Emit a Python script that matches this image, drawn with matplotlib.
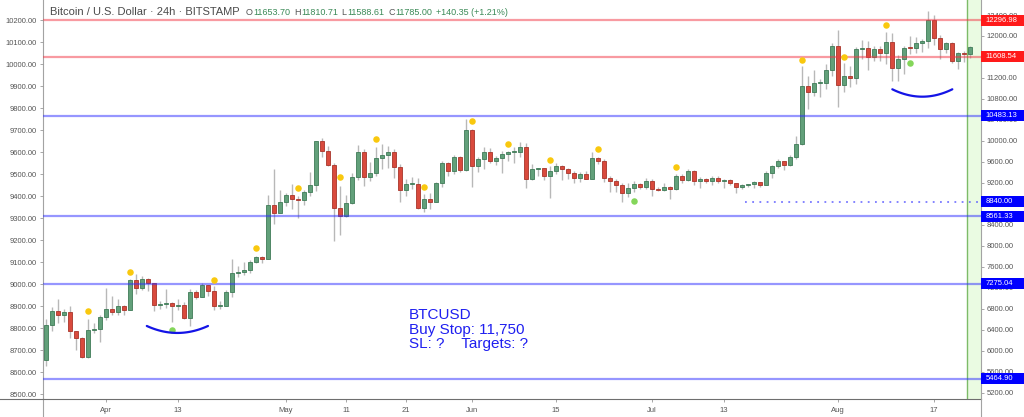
import matplotlib
matplotlib.use("Agg")
import matplotlib.pyplot as plt
import numpy as np
from matplotlib.lines import Line2D
from matplotlib.patches import Rectangle
from matplotlib.transforms import blended_transform_factory

plt.rcParams['font.family'] = ['Liberation Sans', 'DejaVu Sans']

# BTCUSD daily candles, 23 Mar - 24 Aug 2020
opens = [
    5830, 6490, 6764, 6690, 6740, 6370, 6240, 5880, 6400,
    6420, 6650, 6800, 6740, 6860, 6780, 7340, 7200, 7370, 7290, 6870, 6890, 6910, 6860, 6870,
    6620, 7110, 7030, 7260, 7130, 6850, 6860, 7120, 7490, 7510, 7540, 7700, 7780, 7750, 8780,
    8620, 8830, 8970, 8890, 8880, 9020, 9150, 9990, 9810, 9540, 8730, 8560, 8810, 9310, 9790,
    9310, 9380, 9670, 9730, 9780, 9510, 9060, 9170, 9180, 8720, 8900, 8840, 9200, 9570, 9430, 9700,
    9450, 10200, 9520, 9650, 9790, 9620, 9670, 9750, 9780, 9780, 9890, 9270, 9460, 9480, 9330,
    9430, 9520, 9460, 9380, 9300, 9360, 9280, 9680, 9620, 9290, 9240, 9160, 9000, 9110, 9180,
    9130, 9230, 9090, 9060, 9130, 9080, 9340, 9250, 9430, 9230, 9280, 9230, 9300, 9240, 9250,
    9190, 9130, 9150, 9170, 9210, 9160, 9390, 9530, 9610, 9540, 9700, 9940, 11040, 10930, 11110, 11110,
    11350, 11810, 11070, 11230, 11190, 11750, 11770, 11600, 11760, 11680, 11890, 11390, 11570, 11780,
    11770, 11860, 11910, 12300, 11960, 11750, 11870, 11520, 11680, 11653.70,
]
highs = [
    6600, 6840, 6980, 6800, 6860, 6380, 6260, 6600, 6520,
    6680, 7190, 7040, 6990, 6880, 7360, 7470, 7420, 7380, 7300, 6950, 7170, 6920, 6980, 6930,
    7180, 7150, 7300, 7260, 7230, 6950, 7150, 7740, 7610, 7700, 7720, 7800, 7800, 8970, 9460,
    9070, 9000, 9180, 8950, 9070, 9400, 10000, 10050, 9910, 9580, 9140, 8970, 9390, 9920, 9840,
    9590, 9880, 9950, 9900, 9840, 9560, 9280, 9310, 9300, 8980, 9010, 9220, 9620, 9600, 9740, 9710,
    10420, 10230, 9690, 9880, 9860, 9720, 9800, 9800, 9880, 9980, 9960, 9560, 9490, 9480, 9530,
    9580, 9550, 9480, 9420, 9400, 9420, 9780, 9690, 9660, 9330, 9280, 9200, 9190, 9230, 9200,
    9290, 9270, 9130, 9190, 9140, 9360, 9360, 9470, 9440, 9320, 9300, 9340, 9340, 9280, 9270,
    9200, 9180, 9180, 9240, 9220, 9420, 9550, 9650, 9620, 9730, 10100, 11420, 11240, 11350, 11180, 11460,
    11860, 12120, 11480, 11420, 11790, 11920, 11900, 11800, 11810, 12070, 12050, 11630, 11800,
    12000, 11980, 11940, 12470, 12400, 12020, 11890, 11890, 11700, 11720, 11810.71,
]
lows = [
    5700, 6380, 6520, 6540, 6250, 6020, 5860, 5860, 6330,
    6160, 6590, 6680, 6680, 6680, 6780, 7080, 7150, 7130, 6760, 6790, 6810, 6550, 6770, 6610,
    6480, 6990, 7020, 7050, 6770, 6800, 6850, 7030, 7400, 7450, 7480, 7670, 7680, 7740, 8420,
    8620, 8760, 8710, 8530, 8780, 8950, 9040, 9700, 9520, 8100, 8200, 8540, 8790, 9260, 9140,
    9230, 9330, 9470, 9480, 9300, 8830, 8950, 9090, 8710, 8640, 8700, 8830, 9120, 9330, 9360, 9400,
    9420, 9130, 9400, 9460, 9580, 9540, 9380, 9620, 9570, 9690, 9100, 9250, 9340, 9250, 8920,
    9370, 9260, 9280, 9200, 9210, 9270, 9270, 9560, 9210, 9030, 9030, 8840, 8940, 9030, 9080,
    9080, 8950, 9040, 9050, 8900, 9060, 9200, 9230, 9160, 9110, 9190, 9150, 9200, 9110, 9150,
    9000, 9080, 9120, 9110, 9130, 9150, 9290, 9480, 9440, 9520, 9650, 9920, 10600, 10860, 10840, 10990,
    11230, 10650, 10930, 11020, 11090, 11570, 11360, 11520, 11530, 11460, 11140, 11150, 11280,
    11650, 11680, 11690, 11780, 11830, 11570, 11680, 11480, 11380, 11510, 11588.61,
]
closes = [
    6490, 6764, 6690, 6740, 6370, 6240, 5880, 6400, 6420,
    6650, 6800, 6740, 6860, 6780, 7340, 7200, 7370, 7290, 6870, 6890, 6910, 6860, 6870, 6620,
    7110, 7030, 7260, 7130, 6850, 6860, 7120, 7490, 7510, 7540, 7700, 7780, 7750, 8780, 8620,
    8830, 8970, 8890, 8880, 9020, 9150, 9990, 9810, 9540, 8730, 8560, 8810, 9310, 9790, 9310,
    9380, 9670, 9730, 9780, 9510, 9060, 9170, 9180, 8720, 8900, 8840, 9200, 9570, 9430, 9700, 9450,
    10200, 9520, 9650, 9790, 9620, 9670, 9750, 9780, 9780, 9890, 9270, 9460, 9480, 9330, 9430,
    9520, 9460, 9380, 9300, 9360, 9280, 9680, 9620, 9290, 9240, 9160, 9000, 9110, 9180, 9130,
    9230, 9090, 9060, 9130, 9080, 9340, 9250, 9430, 9230, 9280, 9230, 9300, 9240, 9250, 9190,
    9130, 9150, 9170, 9210, 9160, 9390, 9530, 9610, 9540, 9700, 9940, 11040, 10930, 11110, 11110, 11350,
    11810, 11070, 11230, 11190, 11750, 11770, 11600, 11760, 11680, 11890, 11390, 11570, 11780,
    11770, 11860, 11910, 12300, 11960, 11750, 11870, 11520, 11680, 11650, 11785.00,
]

# date axis (candle index -> label)
tick_pos = [10, 22, 40, 50, 60, 71, 85, 101, 113, 132, 148]
tick_labels = ["Apr", "13", "May", "11", "21", "Jun", "15", "Jul", "13", "Aug", "17"]

# drawn levels
red_levels = [12296.98, 11608.54]
blue_levels = [10483.13, 8561.33, 7275.04, 5464.90]
dotted_level = 8840.00
dotted_start = 116.5

# marker dots
yellow_idx = [7, 14, 28, 35, 42, 49, 55, 63, 71, 77, 84, 92, 105, 126, 133, 140]
yellow_val = [6764, 7507, 7355, 7953, 9108, 9312, 10031, 9122, 10374, 9947, 9631, 9846, 9509,
              11543, 11600, 12210]
green_idx = [21, 98, 144]
green_val = [6390, 8860, 11491]

# rounded-bottom arcs
arc_left = [16.8, 141.05]
arc_right = [27.0, 151.05]
arc_rim = [6472, 10984]
arc_bottom = [6339, 10843]

right_ticks = np.arange(5200, 12401, 400)
hidden_right = [8800, 11600]   # fully covered by price labels
left_ticks = np.arange(8500, 10201, 100)

GRAY = '#555555'
XMAX = 155.78

fig = plt.figure(figsize=(10.24, 4.17), dpi=100)
ax = fig.add_axes([43.3 / 1024, 17.7 / 417, 937.4 / 1024, 399.3 / 417])
ax2 = ax.twinx()

x = np.arange(len(closes))
o = np.array(opens, float)
h = np.array(highs, float)
l = np.array(lows, float)
c = np.array(closes, float)
up = c >= o
lo = np.minimum(o, c)
hgt = np.maximum(np.abs(c - o), 18)

# current session band
ax.axvspan(153.55, XMAX, color='#eafbe2', zorder=0, lw=0)
ax.axvline(153.55, color='#7dbb68', lw=1, zorder=1)

# candles
ax.vlines(x, l, h, color='#b8b8b8', lw=1, zorder=2)
ax.bar(x[up], hgt[up], bottom=lo[up], width=0.66, color='#62a07a', edgecolor='#3f7b57', lw=0.6, zorder=3)
ax.bar(x[~up], hgt[~up], bottom=lo[~up], width=0.66, color='#d94a3d', edgecolor='#a8342a', lw=0.6, zorder=3)

# horizontal levels
for v in red_levels:
    ax.axhline(v, color='#f23645', alpha=0.5, lw=1.6, zorder=4)
for v in blue_levels:
    ax.axhline(v, color='#2f2fff', alpha=0.5, lw=1.6, zorder=4)
ax.hlines(dotted_level, dotted_start, XMAX, color='#4d4dff', alpha=0.75, lw=1.3,
          linestyles=(0, (1, 3)), zorder=4)

# dots
ax.scatter(yellow_idx, yellow_val, s=22, color='#f9c80e', zorder=5, lw=0)
ax.scatter(green_idx, green_val, s=22, color='#84d65a', zorder=5, lw=0)

# arcs
t = np.linspace(-1, 1, 60)
for a, b, rim, bot in zip(arc_left, arc_right, arc_rim, arc_bottom):
    xs = (a + b) / 2 + t * (b - a) / 2
    ys = bot + (rim - bot) * t ** 2
    ax.plot(xs, ys, color='#1414e6', lw=1.6, zorder=5, solid_capstyle='round')

# note
ax.text(60.5, 6810, "BTCUSD\nBuy Stop: 11,750\nSL: ?    Targets: ?", color='#1f1ff0',
        fontsize=11, va='top', ha='left', linespacing=1.05, zorder=6)

# axes limits / ticks
ax.set_xlim(-0.45, XMAX)
ax.set_ylim(5074, 12686)
ax2.set_ylim(8477.3, 10292.3)

ax.yaxis.tick_right()
ax.set_yticks(right_ticks, ["" if v in hidden_right else f"{v:.2f}" for v in right_ticks])
ax.tick_params(axis='y', length=2, width=0.6, color='#999999', labelsize=5.5, labelcolor=GRAY, pad=2)
ax2.yaxis.tick_left()
ax2.set_yticks(left_ticks, [f"{v:.2f}" for v in left_ticks])
ax2.tick_params(axis='y', length=2.4, width=0.6, color='#999999', labelsize=5.5, labelcolor=GRAY, pad=2.4)
ax.set_xticks(tick_pos, tick_labels)
ax.tick_params(axis='x', length=2, width=0.6, color='#999999', labelsize=5.5, labelcolor=GRAY, pad=3.5)

for s in ax2.spines.values():
    s.set_visible(False)
ax.spines['top'].set_visible(False)
ax.spines['left'].set_color('#a3a3a3')
ax.spines['right'].set_color('#a3a3a3')
ax.spines['bottom'].set_color('#6e6e6e')
for s in ('left', 'right', 'bottom'):
    ax.spines[s].set_linewidth(0.8)

# spine extensions into the date strip
fig.add_artist(Line2D([43.3 / 1024] * 2, [0, 17.7 / 417], color='#a3a3a3', lw=0.8))
fig.add_artist(Line2D([980.7 / 1024] * 2, [0, 17.7 / 417], color='#a3a3a3', lw=0.8))
fig.add_artist(Line2D([0, 43.3 / 1024], [17.7 / 417] * 2, color='#6e6e6e', lw=0.8))

# price labels on the right scale
blend = blended_transform_factory(ax.transAxes, ax.transData)
box_levels = red_levels + [blue_levels[0], dotted_level] + blue_levels[1:]
box_colors = ['#ff1a1a'] * 2 + ['#0000ff'] * 5
for v, col in zip(box_levels, box_colors):
    ax.add_patch(Rectangle((1.0005, v - 105), 0.047, 210, transform=blend, clip_on=False,
                           fc=col, ec='none', zorder=6))
    ax.text(1.0055, v, f"{v:.2f}", transform=blend, color='white', fontsize=5.5,
            va='center', ha='left', zorder=7, clip_on=False)

# header
title = fig.text(50 / 1024, 1 - 11.7 / 417, "Bitcoin / U.S. Dollar · 24h · BITSTAMP",
                 fontsize=8, color='#4a4a4a', va='center', ha='left')
pieces = [("O", '#555555', 4.5), ("11653.70", '#3b8a57', 0.6), ("H", '#555555', 2.5),
          ("11810.71", '#3b8a57', 0.6), ("L", '#555555', 2.5), ("11588.61", '#3b8a57', 0.6),
          ("C", '#555555', 2.5), ("11785.00", '#3b8a57', 0.6), ("+140.35 (+1.21%)", '#3b8a57', 2.5)]
prev = title
for txt, col, gap in pieces:
    prev = ax.annotate(txt, xy=(1, 0), xycoords=prev, xytext=(gap, 0), textcoords='offset points',
                       fontsize=6.5, color=col, va='bottom', ha='left', annotation_clip=False)

fig.savefig("out.png", dpi=100)
